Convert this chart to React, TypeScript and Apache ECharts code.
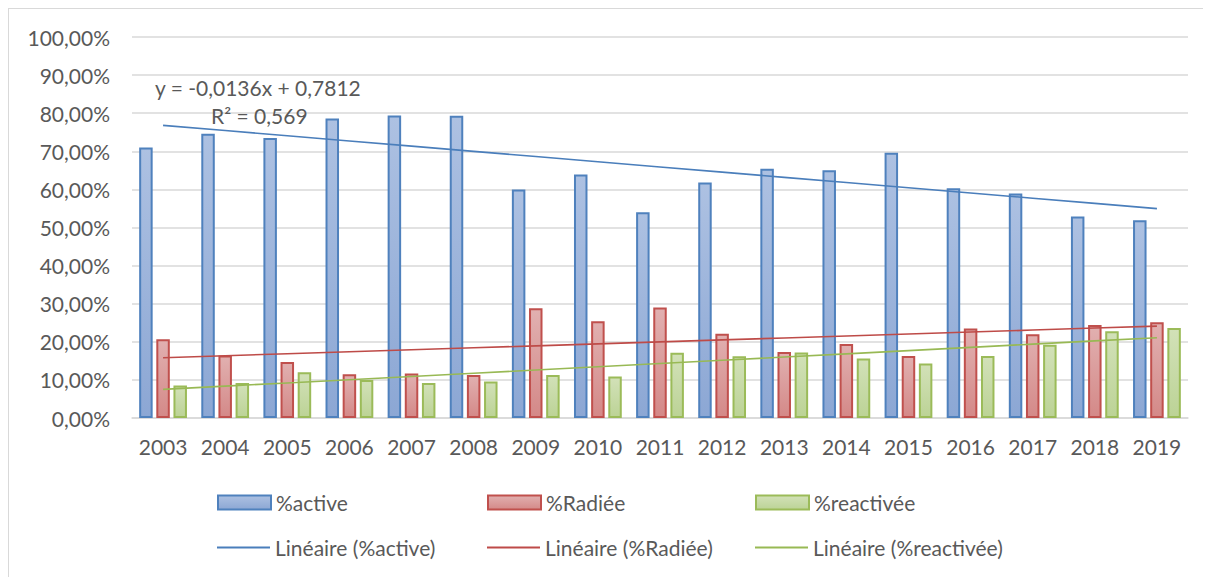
import React, { useEffect, useRef } from "react";
import * as echarts from "echarts";

const years = ["2003","2004","2005","2006","2007","2008","2009","2010","2011","2012","2013","2014","2015","2016","2017","2018","2019"];
const active = [0.710,0.746,0.735,0.786,0.794,0.793,0.600,0.639,0.540,0.618,0.654,0.650,0.696,0.603,0.589,0.529,0.519];
const radiee = [0.207,0.164,0.147,0.115,0.117,0.113,0.288,0.254,0.290,0.221,0.173,0.194,0.163,0.235,0.220,0.244,0.251];
const reactivee = [0.085,0.092,0.120,0.100,0.092,0.096,0.113,0.109,0.171,0.162,0.172,0.156,0.143,0.163,0.192,0.228,0.236];
const equationText = "y = -0,0136x + 0,7812";
const r2Text = "R² = 0,569";

function linFit(v: number[]): number[] {
  const n = v.length;
  let sx = 0, sy = 0, sxx = 0, sxy = 0;
  v.forEach((y, i) => { const x = i + 1; sx += x; sy += y; sxx += x * x; sxy += x * y; });
  const b = (n * sxy - sx * sy) / (n * sxx - sx * sx);
  const a = (sy - b * sx) / n;
  return v.map((_, i) => a + b * (i + 1));
}

const FONT = "Lato";
const FS = 21;
const TXT = "#595959";

function grad(top: string, bottom: string) {
  return new echarts.graphic.LinearGradient(0, 0, 0, 1, [
    { offset: 0, color: top },
    { offset: 1, color: bottom },
  ]);
}

export default function App() {
  const ref = useRef<HTMLDivElement>(null);
  useEffect(() => {
    if (!ref.current) return;
    const chart = echarts.init(ref.current, undefined, { renderer: "svg" });
    const barCommon = { type: "bar", barWidth: 13.5, barGap: "27%" };
    const mkLegend = (name: string, left: number, top: number, isLine: boolean) => ({
      data: [{ name, icon: "rect" }],
      left,
      top,
      padding: 0,
      itemWidth: 53,
      itemHeight: isLine ? 2 : 14,
      textStyle: { fontFamily: FONT, fontSize: FS, color: TXT },
      selectedMode: false,
    });
    chart.setOption({
      animation: false,
      grid: { left: 123, top: 28, width: 1056, height: 381, containLabel: false },
      xAxis: {
        type: "category",
        data: years,
        axisTick: { show: false },
        axisLine: { lineStyle: { color: "#d9d9d9", width: 1.5 } },
        axisLabel: { fontFamily: FONT, fontSize: FS, color: TXT, margin: 18, interval: 0, hideOverlap: false },
      },
      yAxis: {
        type: "value",
        min: 0,
        max: 1,
        interval: 0.1,
        axisLine: { show: false },
        axisTick: { show: false },
        splitLine: { lineStyle: { color: "#d9d9d9", width: 1.5 } },
        axisLabel: {
          fontFamily: FONT,
          fontSize: FS,
          color: TXT,
          margin: 22,
          formatter: (v: number) => (v * 100).toFixed(2).replace(".", ",") + "%",
        },
      },
      legend: [
        mkLegend("%active", 208, 483, false),
        mkLegend("%Radiée", 478, 483, false),
        mkLegend("%reactivée", 746, 483, false),
        mkLegend("Linéaire (%active)", 208, 528, true),
        mkLegend("Linéaire (%Radiée)", 478, 528, true),
        mkLegend("Linéaire (%reactivée)", 746, 528, true),
      ],
      series: [
        { ...barCommon, name: "%active", data: active,
          itemStyle: { color: grad("#adc1e2", "#8ca7d4"), borderColor: "#4f81bd", borderWidth: 2 } },
        { ...barCommon, name: "%Radiée", data: radiee,
          itemStyle: { color: grad("#e1b0b0", "#d48988"), borderColor: "#c0504d", borderWidth: 2 } },
        { ...barCommon, name: "%reactivée", data: reactivee,
          itemStyle: { color: grad("#d2e1b8", "#bcd396"), borderColor: "#9bbb59", borderWidth: 2 } },
        { type: "line", name: "Linéaire (%active)", data: linFit(active), symbol: "none",
          itemStyle: { color: "#4a7ebb" }, lineStyle: { color: "#4a7ebb", width: 1.6 }, z: 5 },
        { type: "line", name: "Linéaire (%Radiée)", data: linFit(radiee), symbol: "none",
          itemStyle: { color: "#be4b48" }, lineStyle: { color: "#be4b48", width: 1.6 }, z: 5 },
        { type: "line", name: "Linéaire (%reactivée)", data: linFit(reactivee), symbol: "none",
          itemStyle: { color: "#98b954" }, lineStyle: { color: "#98b954", width: 1.6 }, z: 5 },
      ],
      graphic: [
        { type: "text", left: 146, top: 68, z: 10,
          style: { text: equationText, fontFamily: FONT, fontSize: FS, fill: TXT } },
        { type: "text", left: 202, top: 96, z: 10,
          style: { text: r2Text, fontFamily: FONT, fontSize: FS, fill: TXT } },
      ],
    });
    return () => chart.dispose();
  }, []);
  return (
    <div style={{ width: 1203, height: 569, borderTop: "1px solid #d9d9d9", borderLeft: "1px solid #d9d9d9", boxSizing: "border-box" }}>
      <div ref={ref} style={{ width: 1202, height: 568 }} />
    </div>
  );
}
